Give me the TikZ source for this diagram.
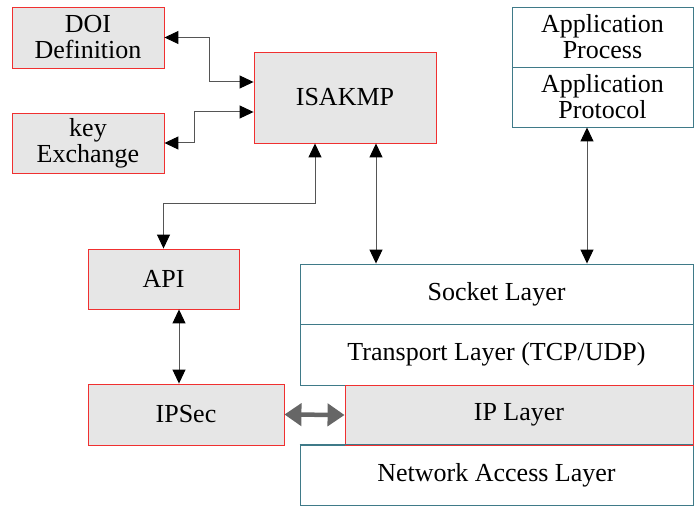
\documentclass[tikz,border=0pt]{standalone}
\usepackage{fontspec}
\setmainfont{Liberation Serif}
\usetikzlibrary{arrows.meta,calc}
\definecolor{boxgray}{HTML}{E6E6E6}
\definecolor{boxred}{HTML}{F03030}
\definecolor{layerteal}{HTML}{3F7A88}
\definecolor{linkgray}{HTML}{555555}
\definecolor{thickgray}{HTML}{666666}
\begin{document}
\begin{tikzpicture}[x=1pt,y=-1pt,
  every node/.style={font=\fontsize{26}{26}\selectfont, align=center, inner sep=0pt},
  secbox/.style={draw=boxred, fill=boxgray, line width=0.9pt},
  layerbox/.style={draw=layerteal, fill=white, line width=0.9pt},
  link/.style={draw=linkgray, line width=1pt,
    {Triangle[length=14pt,width=13pt,color=black]}-{Triangle[length=14pt,width=13pt,color=black]}},
  fatlink/.style={draw=thickgray, line width=4.5pt,
    {Triangle[length=17pt,width=22pt,color=thickgray]}-{Triangle[length=17pt,width=22pt,color=thickgray]}}]
\useasboundingbox (0,0) rectangle (697,508);

% IKE side
\node[secbox, minimum width=152pt, minimum height=61pt] (doi) at (88,37.5) {DOI\\Definition};
\node[secbox, minimum width=152pt, minimum height=60pt] (key) at (88,143) {key\\Exchange};
\node[secbox, minimum width=182pt, minimum height=91pt] (isakmp) at (345,97.5) {ISAKMP};
\node[secbox, minimum width=151pt, minimum height=60pt] (api) at (163.5,279) {API};
\node[secbox, minimum width=196pt, minimum height=61pt] (ipsec) at (186,414.5) {IPSec};

% application boxes
\node[layerbox, minimum width=181pt, minimum height=60pt] (proc) at (602.5,37) {Application\\Process};
\node[layerbox, minimum width=181pt, minimum height=60pt] (proto) at (602.5,97) {Application\\Protocol};

% protocol stack
\node[layerbox, minimum width=393pt, minimum height=60pt] (socket) at (496.5,294) {Socket Layer};
\node[layerbox, minimum width=393pt, minimum height=61pt] (transport) at (496.5,354.5) {Transport Layer (TCP/UDP)};
\node[layerbox, minimum width=393pt, minimum height=60pt] (net) at (496.5,475) {Network Access Layer};
\node[secbox, minimum width=348pt, minimum height=60pt] (ip) at (519,415) {IP Layer};
\draw[layerteal, line width=0.9pt] (net.north west) -- (net.north east);

% connectors
\draw[link] (doi.east) -- ++(45,0) |- ([yshift=15.5pt]isakmp.west);
\draw[link] (key.east) -- ++(30,0) |- ([yshift=-14.5pt]isakmp.west);
\draw[link] ([xshift=-30pt]isakmp.south) -- ++(0,60) -| (api.north);
\draw[link] ([xshift=31pt]isakmp.south) -- ([xshift=31pt]isakmp.south |- socket.north);
\draw[link] ([xshift=-15.5pt]proto.south) -- ([xshift=-15.5pt]proto.south |- socket.north);
\draw[link] ([xshift=15.5pt]api.south) -- ([xshift=15.5pt]api.south |- ipsec.north);
\draw[fatlink] (ipsec.east) -- (ip.west);
\end{tikzpicture}
\end{document}
